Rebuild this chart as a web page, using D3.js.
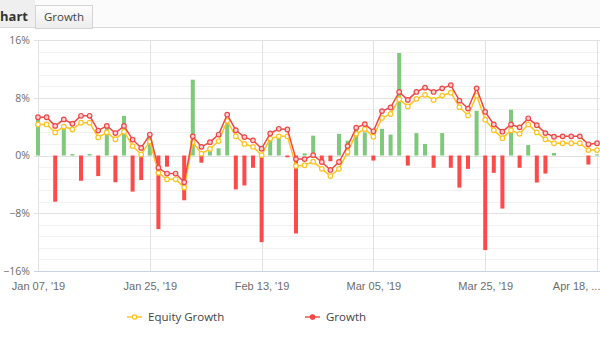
<!DOCTYPE html>
<html>
<head>
<meta charset="utf-8">
<script src="https://cdn.jsdelivr.net/npm/d3@7/dist/d3.min.js"></script>
<style>
  html, body { margin: 0; padding: 0; background: #fff; }
  svg { display: block; }
</style>
</head>
<body>
<svg id="chart" width="600" height="350"></svg>
<script>
// Trading days shown on the category axis
const dates = [
  "2019-01-07","2019-01-08","2019-01-09","2019-01-10","2019-01-11","2019-01-14","2019-01-15","2019-01-16","2019-01-17","2019-01-18",
  "2019-01-22","2019-01-23","2019-01-24","2019-01-25","2019-01-28","2019-01-29","2019-01-30","2019-01-31","2019-02-01","2019-02-04",
  "2019-02-05","2019-02-06","2019-02-07","2019-02-08","2019-02-11","2019-02-12","2019-02-13","2019-02-14","2019-02-15","2019-02-19",
  "2019-02-20","2019-02-21","2019-02-22","2019-02-25","2019-02-26","2019-02-27","2019-02-28","2019-03-01","2019-03-04","2019-03-05",
  "2019-03-06","2019-03-07","2019-03-08","2019-03-11","2019-03-12","2019-03-13","2019-03-14","2019-03-18","2019-03-19","2019-03-20",
  "2019-03-21","2019-03-22","2019-03-25","2019-03-26","2019-03-27","2019-03-28","2019-04-01","2019-04-02","2019-04-03","2019-04-04",
  "2019-04-09","2019-04-10","2019-04-11","2019-04-16","2019-04-17","2019-04-18"
];

// Cumulative growth, %
const growth = [
  5.3, 5.3, 4.1, 5.0, 4.4, 5.5, 5.5, 3.45, 4.1, 3.1,
  4.1, 2.2, 1.05, 2.9, -1.7, -2.5, -2.5, -3.7, 2.65, 1.2,
  1.85, 2.9, 5.65, 3.5, 2.55, 2.1, 0.95, 3.05, 3.7, 3.6,
  -0.5, -0.5, 0.05, -0.9, -2.0, -0.9, 1.3, 3.85, 4.35, 3.35,
  6.15, 6.65, 8.8, 7.7, 8.8, 9.4, 8.8, 9.3, 9.75, 7.6,
  6.5, 9.3, 6.05, 4.3, 3.3, 4.3, 3.9, 5.15, 4.2, 3.1,
  2.6, 2.65, 2.65, 2.65, 1.55, 1.7
];

// Cumulative equity growth, %
const equityGrowth = [
  4.3, 4.3, 3.2, 4.0, 3.6, 4.55, 4.55, 2.5, 3.2, 2.25,
  3.3, 1.3, 0.15, 1.95, -2.4, -3.3, -3.3, -4.45, 1.85, 0.25,
  0.9, 2.0, 4.8, 2.65, 1.6, 1.2, 0.05, 2.35, 2.65, 2.65,
  -1.45, -1.35, -0.85, -1.85, -2.85, -1.85, 0.5, 3.0, 3.65, 2.6,
  5.2, 5.75, 7.8, 6.8, 7.85, 8.4, 7.7, 8.3, 8.7, 6.7,
  5.55, 8.3, 4.95, 3.5, 2.4, 3.5, 3.0, 4.3, 3.2, 2.25,
  1.7, 1.7, 1.7, 1.7, 0.75, 0.75
];

// Daily gain, %
const dailyGain = [
  5.1, 0, -6.4, 4.0, 0.2, -3.5, 0.2, -2.85, 4.05, -3.7,
  5.5, -5.0, -3.4, 3.0, -10.2, -1.55, 0, -6.2, 10.5, -1.0,
  0.8, 1.0, 4.6, -4.7, -4.15, -1.7, -12.0, 2.2, 2.55, -0.25,
  -10.8, 0.3, 2.75, -0.85, -0.8, 3.0, 2.05, 3.8, 3.2, -0.7,
  3.7, 2.9, 14.2, -1.4, 3.1, 1.6, -1.7, 3.1, -1.7, -4.45,
  -1.85, 6.2, -13.1, -2.4, -7.35, 6.35, -1.7, 1.45, -3.75, -2.5,
  0.35, 0, 0, 0, -1.25, 0.15
];

const yTicks = [16, 8, 0, -8, -16];
const labelStep = 13;
const seriesNames = ["Equity Growth", "Growth"];

const colors = {
  equity: "#ffc31f",
  growth: "#f04747",
  up: "#7fc97c",
  down: "#ff4a4a",
  major: "#e1e1e1",
  minor: "#f2f2f2",
  axis: "#c8d4e3",
  label: "#6b6b6b"
};

const svg = d3.select("#chart");

// Header strip with the panel title and the tab
const header = svg.append("g");
header.append("rect").attr("x", 0).attr("y", 0).attr("width", 600).attr("height", 28).attr("fill", "#fbfbfb");
header.append("rect").attr("x", 0).attr("y", 0).attr("width", 35).attr("height", 28).attr("fill", "#efefef");
header.append("line").attr("x1", 0).attr("x2", 600).attr("y1", 27.5).attr("y2", 27.5).attr("stroke", "#d9d9d9");
const defs = svg.append("defs");
const tabGrad = defs.append("linearGradient").attr("id", "tabGrad").attr("x1", 0).attr("x2", 0).attr("y1", 0).attr("y2", 1);
tabGrad.append("stop").attr("offset", "0%").attr("stop-color", "#fdfdfd");
tabGrad.append("stop").attr("offset", "100%").attr("stop-color", "#ececec");
header.append("rect").attr("x", 35.5).attr("y", 5.5).attr("width", 57).attr("height", 23)
  .attr("fill", "url(#tabGrad)").attr("stroke", "#d3d3d3");
header.append("text").attr("x", 0).attr("y", 21)
  .attr("font-family", "'Open Sans', sans-serif").attr("font-size", 13).attr("font-weight", 700)
  .attr("fill", "#333").text("hart");
header.append("text").attr("x", 64).attr("y", 21).attr("text-anchor", "middle")
  .attr("font-family", "'Open Sans', sans-serif").attr("font-size", 11.5)
  .attr("fill", "#444").text("Growth");

// Scales
const idx = d3.range(dates.length);
const x = d3.scalePoint().domain(idx).range([38, 597]);
const y = d3.scaleLinear().domain([-16, 16]).range([271, 40]);
const plotRight = 600;

const parse = d3.timeParse("%Y-%m-%d");
const fmt = d3.timeFormat("%b %d, '%y");

// Grid
const grid = svg.append("g");
const minorTicks = d3.range(-16, 16.01, 1.6).filter(v => !yTicks.some(t => Math.abs(t - v) < 1e-6));
grid.selectAll(".minor").data(minorTicks).join("line")
  .attr("x1", 38).attr("x2", plotRight)
  .attr("y1", d => Math.round(y(d)) + 0.5).attr("y2", d => Math.round(y(d)) + 0.5)
  .attr("stroke", colors.minor);
grid.selectAll(".major").data(yTicks.filter(v => v !== -16)).join("line")
  .attr("x1", 34).attr("x2", plotRight)
  .attr("y1", d => Math.round(y(d)) + 0.5).attr("y2", d => Math.round(y(d)) + 0.5)
  .attr("stroke", colors.major);
const labelIdx = idx.filter(i => i % labelStep === 0);
grid.selectAll(".vgrid").data(labelIdx).join("line")
  .attr("x1", d => Math.round(x(d)) + 0.5).attr("x2", d => Math.round(x(d)) + 0.5)
  .attr("y1", y(16)).attr("y2", y(-16))
  .attr("stroke", colors.major);
// Category axis line
grid.append("line").attr("x1", 34).attr("x2", plotRight)
  .attr("y1", Math.round(y(-16)) + 0.5).attr("y2", Math.round(y(-16)) + 0.5)
  .attr("stroke", colors.axis);

// Value axis labels
const yAxis = d3.axisLeft(y).tickValues(yTicks).tickSize(0).tickPadding(0)
  .tickFormat(d => (d < 0 ? "\u2212" + Math.abs(d) : d) + "%");
const yG = svg.append("g").attr("transform", "translate(30,0)").call(yAxis);
yG.select(".domain").remove();
yG.selectAll("text").attr("font-family", "'Open Sans', sans-serif").attr("font-size", 10.5)
  .attr("fill", colors.label);

// Category axis labels
const xAxis = d3.axisBottom(x).tickValues(labelIdx).tickSize(0).tickPadding(0)
  .tickFormat(i => fmt(parse(dates[i])));
const xG = svg.append("g").attr("transform", "translate(0,282)").call(xAxis);
xG.select(".domain").remove();
xG.selectAll("text").attr("font-family", "'Liberation Sans', Arial, sans-serif").attr("font-size", 11)
  .attr("fill", colors.label).attr("dy", "0.71em");
// Shorten a label that runs past the right edge
xG.selectAll("text").each(function(i) {
  const t = d3.select(this);
  const full = t.text();
  const w = this.getComputedTextLength();
  if (x(i) + w / 2 > 600) {
    t.attr("text-anchor", "end").attr("x", 600 - x(i));
    let s = full;
    while (s.length > 1 && this.getComputedTextLength() > 48) {
      s = s.slice(0, -1);
      t.text(s.trimEnd() + " ...");
    }
  }
});

// Daily bars
const barW = 4;
svg.append("g").selectAll("rect").data(idx).join("rect")
  .attr("x", i => x(i) - barW / 2)
  .attr("width", barW)
  .attr("y", i => y(Math.max(0, dailyGain[i])))
  .attr("height", i => Math.abs(y(dailyGain[i]) - y(0)))
  .attr("fill", i => dailyGain[i] >= 0 ? colors.up : colors.down);

// Lines with markers
function drawSeries(values, color, markerFill) {
  const g = svg.append("g");
  g.append("path").datum(idx)
    .attr("fill", "none").attr("stroke", color).attr("stroke-width", 1.5)
    .attr("d", d3.line().x(i => x(i)).y(i => y(values[i])));
  g.selectAll("circle").data(idx).join("circle")
    .attr("cx", i => x(i)).attr("cy", i => y(values[i])).attr("r", 2.3)
    .attr("fill", markerFill).attr("stroke", color).attr("stroke-width", 1.2);
}
drawSeries(equityGrowth, colors.equity, "#fff");
drawSeries(growth, colors.growth, "#fbd3d3");

// Legend
const legend = svg.append("g").attr("transform", "translate(0,317)");
const legendItems = [
  { name: seriesNames[0], color: colors.equity, fill: "#fff", x: 127 },
  { name: seriesNames[1], color: colors.growth, fill: colors.growth, x: 305 }
];
legendItems.forEach(it => {
  const g = legend.append("g").attr("transform", `translate(${it.x},0)`);
  g.append("line").attr("x1", 0).attr("x2", 15).attr("y1", 0).attr("y2", 0)
    .attr("stroke", it.color).attr("stroke-width", 2).attr("opacity", 0.7);
  g.append("circle").attr("cx", 7.5).attr("cy", 0).attr("r", 2.2)
    .attr("fill", it.fill).attr("stroke", it.color).attr("stroke-width", 1.3);
  g.append("text").attr("x", 21).attr("y", 0).attr("dy", "0.35em")
    .attr("font-family", "'Open Sans', sans-serif").attr("font-size", 11.5)
    .attr("fill", "#444").text(it.name);
});
</script>
</body>
</html>
